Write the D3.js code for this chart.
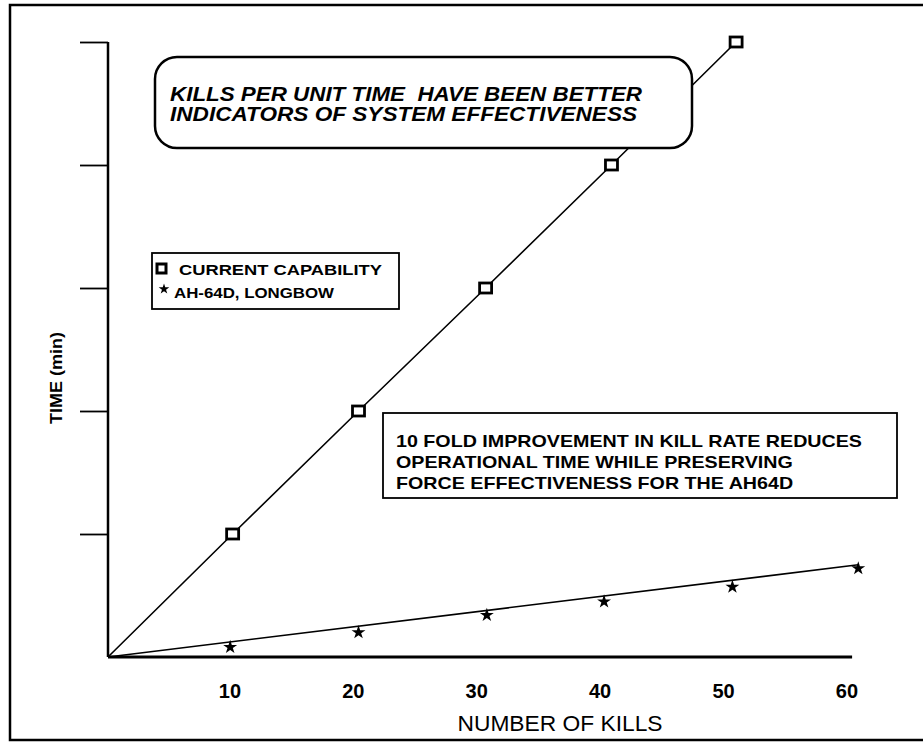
<!DOCTYPE html>
<html>
<head>
<meta charset="utf-8">
<script src="https://cdn.jsdelivr.net/npm/d3@7"></script>
<style>
  body { margin: 0; background: #fff; }
  text { font-family: "Liberation Sans", Arial, sans-serif; fill: #000; white-space: pre; }
</style>
</head>
<body>
<svg id="vis"></svg>
<script>
// values (x = number of kills, y = time)
var xTicks = [10, 20, 30, 40, 50, 60];
var yTicks = [10, 20, 30, 40, 50];
var currentKills = [0, 10.1, 20.3, 30.6, 40.8, 50.9];
var currentTime = [0, 10, 20, 30, 40, 50];
var longbowKills = [9.9, 20.3, 30.7, 40.2, 50.6, 60.8];
var longbowTime = [0.8, 2.0, 3.4, 4.5, 5.7, 7.2];
var longbowFitKills = [0, 60.8];
var longbowFitTime = [0, 7.5];

var calloutLines = ["KILLS PER UNIT TIME  HAVE BEEN BETTER", "INDICATORS OF SYSTEM EFFECTIVENESS"];
var noteLines = ["10 FOLD IMPROVEMENT IN KILL RATE REDUCES", "OPERATIONAL TIME WHILE PRESERVING", "FORCE EFFECTIVENESS FOR THE AH64D"];
var legendLabels = ["CURRENT CAPABILITY", "AH-64D, LONGBOW"];

var width = 923, height = 756;
var svg = d3.select('#vis').attr('width', width).attr('height', height);

// frame around the slide
svg.append('rect').attr('x', 10).attr('y', 5).attr('width', 925).attr('height', 735)
    .attr('fill', 'none').attr('stroke', 'black').attr('stroke-width', 2.5);

var x = d3.scaleLinear().domain([0, 60]).range([108, 848.4]);
var y = d3.scaleLinear().domain([0, 50]).range([657, 42]);

// y axis: ticks point outward, no labels
var yAxis = svg.append('g').attr('transform', 'translate(108,0)')
    .call(d3.axisLeft(y).tickValues(yTicks).tickSize(28).tickFormat(''));
yAxis.select('.domain').remove();
yAxis.selectAll('line').attr('stroke', 'black').attr('stroke-width', 1.8);
svg.append('line').attr('x1', 108).attr('x2', 108).attr('y1', y(0)).attr('y2', y(50))
    .attr('stroke', 'black').attr('stroke-width', 2.5);

// x axis line + labels
svg.append('line').attr('x1', x(0)).attr('x2', x(60.3)).attr('y1', y(0)).attr('y2', y(0))
    .attr('stroke', 'black').attr('stroke-width', 3);
var xAxis = svg.append('g').attr('transform', 'translate(-2,' + y(0) + ')')
    .call(d3.axisBottom(x).tickValues(xTicks).tickSize(0).tickPadding(27));
xAxis.select('.domain').remove();
xAxis.selectAll('text').attr('font-size', 20).attr('font-weight', 'bold')
    .style('font-family', '"Liberation Sans", Arial, sans-serif');

svg.append('text').attr('x', 560).attr('y', 731).attr('text-anchor', 'middle')
    .attr('font-size', 22).attr('textLength', 205).attr('lengthAdjust', 'spacingAndGlyphs')
    .text('NUMBER OF KILLS');

svg.append('text').attr('transform', 'translate(62,378) rotate(-90)').attr('text-anchor', 'middle')
    .attr('font-size', 17).attr('font-weight', 'bold')
    .attr('textLength', 92).attr('lengthAdjust', 'spacingAndGlyphs')
    .text('TIME (min)');

// lines
var line = d3.line().x(function(d) { return x(d[0]); }).y(function(d) { return y(d[1]); });
var currentPts = currentKills.map(function(k, i) { return [k, currentTime[i]]; });
var longbowPts = longbowKills.map(function(k, i) { return [k, longbowTime[i]]; });
var fitPts = longbowFitKills.map(function(k, i) { return [k, longbowFitTime[i]]; });

svg.append('path').attr('d', line(currentPts)).attr('fill', 'none').attr('stroke', 'black').attr('stroke-width', 1.6);
svg.append('path').attr('d', line(fitPts)).attr('fill', 'none').attr('stroke', 'black').attr('stroke-width', 1.6);

// callout box sits over the line
var callout = svg.append('g');
callout.append('rect').attr('x', 155).attr('y', 57).attr('width', 537).attr('height', 91)
    .attr('rx', 22).attr('ry', 22).attr('fill', 'white').attr('stroke', 'black').attr('stroke-width', 2.5);
callout.selectAll('text').data(calloutLines).enter().append('text')
    .attr('x', 170).attr('y', function(d, i) { return 101 + i * 20; })
    .attr('font-size', 20).attr('font-weight', 'bold').attr('font-style', 'italic')
    .attr('textLength', function(d, i) { return i == 0 ? 472 : 467; }).attr('lengthAdjust', 'spacingAndGlyphs')
    .text(function(d) { return d; });

// markers
svg.selectAll('.sq').data(currentPts.slice(1)).enter().append('rect')
    .attr('x', function(d) { return x(d[0]) - 6; }).attr('y', function(d) { return y(d[1]) - 5; })
    .attr('width', 12).attr('height', 10)
    .attr('fill', 'white').attr('stroke', 'black').attr('stroke-width', 2.8);

var star = d3.symbol().type(d3.symbolStar).size(60);
svg.selectAll('.st').data(longbowPts).enter().append('path')
    .attr('d', star).attr('transform', function(d) { return 'translate(' + x(d[0]) + ',' + y(d[1]) + ')'; })
    .attr('fill', 'black');

// legend
var legend = svg.append('g');
legend.append('rect').attr('x', 152).attr('y', 253).attr('width', 247).attr('height', 56)
    .attr('fill', 'white').attr('stroke', 'black').attr('stroke-width', 1.8);
legend.append('rect').attr('x', 157).attr('y', 264).attr('width', 9).attr('height', 9)
    .attr('fill', 'white').attr('stroke', 'black').attr('stroke-width', 3);
legend.append('path').attr('d', d3.symbol().type(d3.symbolStar).size(35))
    .attr('transform', 'translate(164,289)').attr('fill', 'black');
legend.selectAll('text').data(legendLabels).enter().append('text')
    .attr('x', function(d, i) { return i == 0 ? 179 : 174; })
    .attr('y', function(d, i) { return 275 + i * 23; })
    .attr('font-size', 15).attr('font-weight', 'bold')
    .attr('textLength', function(d, i) { return i == 0 ? 203 : 160; }).attr('lengthAdjust', 'spacingAndGlyphs')
    .text(function(d) { return d; });

// note box - the scan's font is wider than Arial, so stretch every line by the same factor
var note = svg.append('g');
note.append('rect').attr('x', 383).attr('y', 413).attr('width', 514).attr('height', 85)
    .attr('fill', 'white').attr('stroke', 'black').attr('stroke-width', 1.8);
var noteText = note.selectAll('text').data(noteLines).enter().append('text')
    .attr('x', 396).attr('y', function(d, i) { return 447 + i * 21; })
    .attr('font-size', 17).attr('font-weight', 'bold')
    .text(function(d) { return d; });
var stretch = 466 / noteText.node().getComputedTextLength();
noteText.each(function() {
    var w = this.getComputedTextLength();
    d3.select(this).attr('textLength', w * stretch).attr('lengthAdjust', 'spacingAndGlyphs');
});
</script>
</body>
</html>
